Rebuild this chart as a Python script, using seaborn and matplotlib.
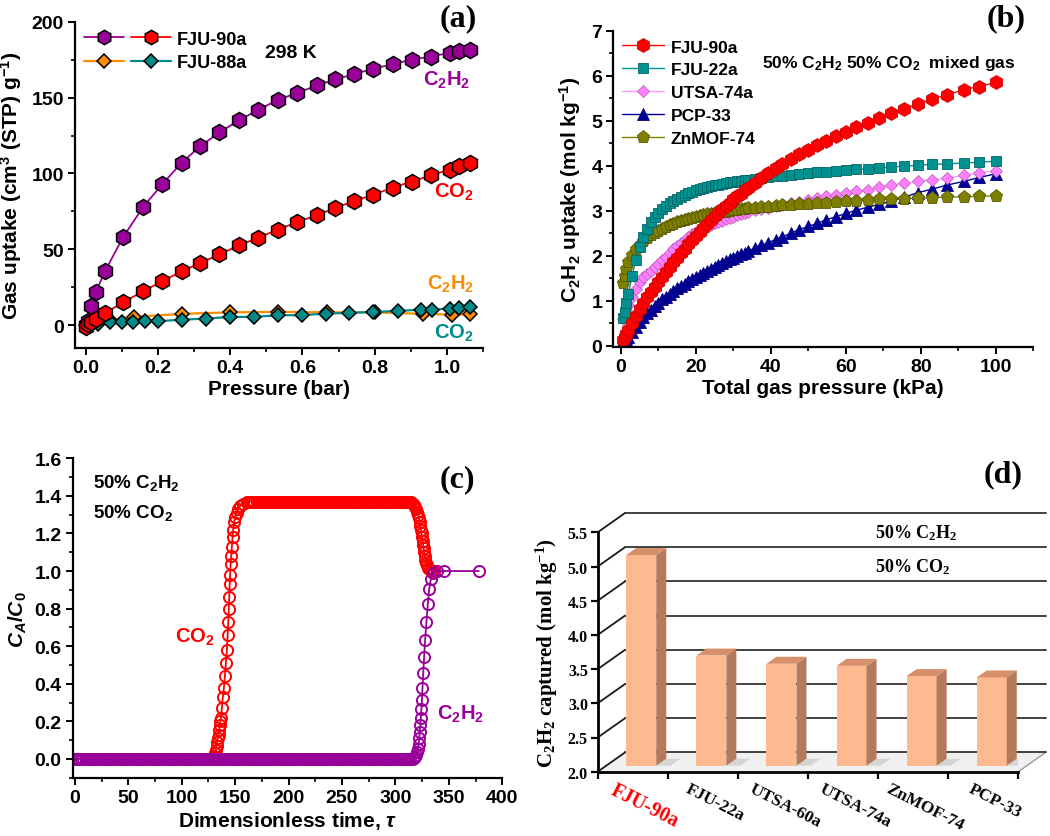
import numpy as np
import matplotlib
matplotlib.use('Agg')
import matplotlib.pyplot as plt
import seaborn as sns
from matplotlib.ticker import AutoMinorLocator, MultipleLocator, FormatStrFormatter
from matplotlib.legend_handler import HandlerTuple
from matplotlib.patches import Polygon

# ---------------- data ----------------
# (a) single-component isotherms at 298 K
p_a = [0.0, 0.005, 0.013, 0.028, 0.053, 0.103, 0.159, 0.212, 0.265, 0.317, 0.370, 0.424,
       0.478, 0.532, 0.585, 0.640, 0.691, 0.744, 0.796, 0.850, 0.902, 0.956, 1.008, 1.034, 1.065]
fju90_c2h2 = [0.3, 3, 13, 22, 35.5, 58, 78, 93, 107, 118, 127, 135, 142, 148.5, 153, 158,
              162, 165.5, 169, 172, 175, 177, 179.5, 180.5, 181.5]
fju90_co2 = [-1, 0.5, 2, 4, 8, 15, 22.5, 29, 35.5, 41, 46.7, 52.6, 57.7, 63, 68, 72.4,
             77.4, 81.8, 86, 90.6, 94.7, 98.7, 102.6, 104.6, 107]
p_88_c2h2 = [0.0, 0.01, 0.03, 0.067, 0.133, 0.267, 0.4, 0.533, 0.667, 0.8, 0.933, 1.013, 1.065]
fju88_c2h2 = [0, 0.8, 2, 3.5, 5.5, 7.5, 8.5, 8.8, 8.5, 8.5, 7.5, 7.0, 7.2]
p_88_co2 = [0.004, 0.034, 0.066, 0.099, 0.131, 0.165, 0.2, 0.265, 0.334, 0.4, 0.467, 0.532,
            0.598, 0.665, 0.728, 0.796, 0.864, 0.928, 0.96, 1.008, 1.034, 1.065]
fju88_co2 = [-1.1, 1.1, 2.2, 2.2, 2.2, 2.6, 2.6, 3.7, 4.4, 5.5, 5.5, 6.6, 6.6, 7.7, 8.1,
             8.8, 9.4, 10.3, 10.3, 11, 11.4, 12]

# (b) IAST C2H2 uptake from 50/50 C2H2/CO2
p_b = [0.5, 1, 1.5, 2, 3, 4, 5, 6, 7, 8, 9, 10, 11, 12, 13, 14, 15, 16, 17, 18, 19, 20,
       21, 22, 23, 24, 25, 26, 27, 28, 29, 30, 31, 32, 33, 34, 35.8, 37.5, 39.3, 41.3, 43.1,
       45.3, 47.5, 50, 52.4, 54.8, 57.5, 60, 62.8, 65.9, 68.9, 72.1, 75.5, 79.2, 83, 87,
       91.4, 95.6, 100]
iast_fju90 = [0.12, 0.2, 0.27, 0.34, 0.5, 0.66, 0.82, 0.95, 1.08, 1.2, 1.31, 1.42, 1.53,
              1.64, 1.75, 1.86, 1.96, 2.06, 2.16, 2.26, 2.35, 2.44, 2.53, 2.62, 2.71, 2.8,
              2.88, 2.96, 3.03, 3.1, 3.18, 3.25, 3.32, 3.38, 3.45, 3.51, 3.62, 3.73, 3.84,
              3.94, 4.04, 4.15, 4.26, 4.36, 4.47, 4.56, 4.67, 4.76, 4.87, 4.96, 5.06, 5.17,
              5.26, 5.37, 5.48, 5.57, 5.69, 5.76, 5.85]
iast_fju22 = [0.62, 0.75, 0.95, 1.15, 1.55, 1.9, 2.2, 2.42, 2.6, 2.74, 2.86, 2.96, 3.04,
              3.11, 3.17, 3.22, 3.27, 3.31, 3.35, 3.39, 3.42, 3.45, 3.48, 3.5, 3.53, 3.55,
              3.57, 3.58, 3.6, 3.61, 3.63, 3.64, 3.65, 3.67, 3.68, 3.69, 3.71, 3.73, 3.75,
              3.77, 3.78, 3.8, 3.81, 3.83, 3.85, 3.86, 3.88, 3.9, 3.92, 3.93, 3.95, 3.97,
              3.99, 4.01, 4.03, 4.04, 4.06, 4.08, 4.1]
iast_utsa74 = [0.59, 0.7, 0.8, 0.9, 1.08, 1.27, 1.42, 1.52, 1.6, 1.67, 1.74, 1.81, 1.9,
               1.98, 2.06, 2.14, 2.21, 2.28, 2.35, 2.42, 2.48, 2.52, 2.56, 2.6, 2.65, 2.69,
               2.72, 2.75, 2.78, 2.81, 2.84, 2.87, 2.9, 2.92, 2.95, 2.97, 3.01, 3.04, 3.07,
               3.1, 3.13, 3.17, 3.2, 3.24, 3.28, 3.32, 3.36, 3.39, 3.43, 3.47, 3.52, 3.57,
               3.61, 3.65, 3.69, 3.72, 3.79, 3.84, 3.89]
iast_pcp33 = [0.1, 0.12, 0.15, 0.2, 0.3, 0.42, 0.53, 0.63, 0.72, 0.8, 0.88, 0.96, 1.03,
              1.09, 1.16, 1.22, 1.28, 1.33, 1.38, 1.43, 1.48, 1.53, 1.58, 1.62, 1.67, 1.71,
              1.76, 1.8, 1.84, 1.88, 1.92, 1.96, 2.0, 2.04, 2.07, 2.11, 2.17, 2.23, 2.29,
              2.36, 2.42, 2.5, 2.58, 2.65, 2.72, 2.8, 2.87, 2.94, 3.01, 3.08, 3.14, 3.21,
              3.3, 3.4, 3.48, 3.57, 3.65, 3.74, 3.82]
iast_znmof74 = [1.4, 1.55, 1.7, 1.85, 2.02, 2.14, 2.24, 2.32, 2.39, 2.45, 2.51, 2.56, 2.6,
                2.64, 2.68, 2.71, 2.74, 2.77, 2.8, 2.82, 2.84, 2.86, 2.88, 2.9, 2.92, 2.93,
                2.95, 2.96, 2.97, 2.98, 3.0, 3.01, 3.02, 3.03, 3.04, 3.05, 3.06, 3.08, 3.09,
                3.1, 3.12, 3.13, 3.14, 3.16, 3.17, 3.18, 3.2, 3.21, 3.22, 3.23, 3.25, 3.26,
                3.27, 3.28, 3.29, 3.3, 3.31, 3.32, 3.33]

# (c) transient breakthrough, FJU-90a
co2_rise_tau = [126, 129, 130.4, 131.2, 132, 132.6, 133.2, 133.9, 134.5, 135.1, 135.7, 136.2,
                136.7, 137.6, 138.5, 139.5, 140.4, 141.3, 142.3, 143.0, 143.6, 144.1, 144.5,
                144.9, 145.3, 145.8, 146.3, 147, 147.6, 148.2, 149.1, 150, 151.3, 152.9,
                154.4, 157, 160.7]
co2_rise_ca = [0.0, 0.005, 0.018, 0.03, 0.05, 0.07, 0.09, 0.11, 0.13, 0.155, 0.18, 0.2,
               0.22, 0.27, 0.33, 0.38, 0.44, 0.51, 0.58, 0.66, 0.73, 0.8, 0.86, 0.93, 0.98,
               1.04, 1.08, 1.13, 1.18, 1.22, 1.26, 1.29, 1.31, 1.33, 1.345, 1.357, 1.366]
co2_top_tau = [162, 164, 166, 168, 170, 172, 174, 176, 178, 180, 182, 184, 186, 188, 190,
               192, 194, 196, 198, 200, 202, 204, 206, 208, 210, 212, 214, 216, 218, 220,
               222, 224, 226, 228, 230, 232, 234, 236, 238, 240, 242, 244, 246, 248, 250,
               252, 254, 256, 258, 260, 262, 264, 266, 268, 270, 272, 274, 276, 278, 280,
               282, 284, 286, 288, 290, 292, 294, 296, 298, 300, 302, 304, 306, 308, 310, 312]
co2_top_level = 1.37
co2_fall_tau = [313.5, 315, 316.3, 317.5, 318.6, 319.6, 320.5, 321.3, 322, 322.7, 323.3,
                323.9, 324.4, 324.9, 325.4, 325.9, 326.4, 326.9, 327.4, 328, 328.7, 329.5,
                330.5, 331.7, 333, 334.5, 336]
co2_fall_ca = [1.369, 1.365, 1.358, 1.35, 1.34, 1.328, 1.314, 1.298, 1.28, 1.26, 1.24, 1.22,
               1.2, 1.18, 1.16, 1.14, 1.12, 1.1, 1.08, 1.06, 1.045, 1.03, 1.018, 1.01, 1.004,
               1.0, 1.0]
c2h2_base_tau = [0, 2, 4, 6, 8, 10, 12, 14, 16, 18, 20, 22, 24, 26, 28, 30, 32, 34, 36, 38,
                 40, 42, 44, 46, 48, 50, 52, 54, 56, 58, 60, 62, 64, 66, 68, 70, 72, 74, 76, 78,
                 80, 82, 84, 86, 88, 90, 92, 94, 96, 98, 100, 102, 104, 106, 108, 110, 112, 114,
                 116, 118, 120, 122, 124, 126, 128, 130, 132, 134, 136, 138, 140, 142, 144, 146,
                 148, 150, 152, 154, 156, 158, 160, 162, 164, 166, 168, 170, 172, 174, 176, 178,
                 180, 182, 184, 186, 188, 190, 192, 194, 196, 198, 200, 202, 204, 206, 208, 210,
                 212, 214, 216, 218, 220, 222, 224, 226, 228, 230, 232, 234, 236, 238, 240, 242,
                 244, 246, 248, 250, 252, 254, 256, 258, 260, 262, 264, 266, 268, 270, 272, 274,
                 276, 278, 280, 282, 284, 286, 288, 290, 292, 294, 296, 298, 300, 302, 304, 306,
                 308, 310, 312, 314, 316]
c2h2_base_level = 0.0
c2h2_rise_tau = [317.5, 318.6, 319.6, 320.4, 321.1, 321.7, 322.3, 322.8, 323.3, 323.8, 324.3,
                 324.8, 325.3, 326, 326.8, 327.8, 329, 330.3, 331.6, 333.2, 335.5, 338.5,
                 345.5, 378]
c2h2_rise_ca = [0.004, 0.01, 0.02, 0.035, 0.055, 0.08, 0.11, 0.145, 0.18, 0.22, 0.265, 0.315,
                0.38, 0.46, 0.54, 0.635, 0.73, 0.825, 0.905, 0.96, 0.99, 1.0, 1.0, 1.0]

# (d) C2H2 captured in breakthrough
mof_names = ['FJU-90a', 'FJU-22a', 'UTSA-60a', 'UTSA-74a', 'ZnMOF-74', 'PCP-33']
captured = [5.08, 3.61, 3.49, 3.46, 3.31, 3.29]

# ---------------- style ----------------
sns.set_style('ticks')
plt.rcParams['font.family'] = ['Liberation Sans', 'DejaVu Sans']
plt.rcParams['font.weight'] = 'bold'
plt.rcParams['axes.labelweight'] = 'bold'
plt.rcParams['mathtext.default'] = 'regular'
plt.rcParams['mathtext.fontset'] = 'custom'
plt.rcParams['mathtext.rm'] = 'Liberation Sans:bold'
plt.rcParams['mathtext.it'] = 'Liberation Sans:italic:bold'
for k in ['axes.edgecolor', 'xtick.color', 'ytick.color', 'text.color', 'axes.labelcolor']:
    plt.rcParams[k] = 'black'

PURPLE = '#990099'
RED = '#ff0000'
ORANGE = '#ff8c00'
TEAL = '#008b8b'
SERIF = ['Liberation Serif', 'DejaVu Serif']

fig = plt.figure(figsize=(10.5, 8.37), dpi=100)
W, H = 1050, 837


def place(l, t, r, b):
    return fig.add_axes([l / W, 1 - b / H, (r - l) / W, (b - t) / H])


def style_axes(ax, fs=14):
    for s in ['top', 'right']:
        ax.spines[s].set_visible(False)
    for s in ['left', 'bottom']:
        ax.spines[s].set_linewidth(1.6)
    ax.tick_params(which='major', direction='out', length=5, width=1.4, labelsize=fs, pad=3)
    ax.tick_params(which='minor', direction='out', length=3, width=1.2)
    ax.xaxis.set_minor_locator(AutoMinorLocator(2))
    ax.yaxis.set_minor_locator(AutoMinorLocator(2))


# ---------------- (a) ----------------
ax_a = place(75, 22.7, 483, 349)
diam = dict(marker='D', markersize=7.6, markeredgecolor='k', markeredgewidth=1.1,
            linewidth=1.6, estimator=None)
hexa = dict(marker='h', markersize=11.5, markeredgecolor='k', markeredgewidth=1.1,
            linewidth=1.3, estimator=None)
sns.lineplot(x=p_88_c2h2, y=fju88_c2h2, ax=ax_a, color=ORANGE, **diam)
h88_c2 = ax_a.lines[-1]
sns.lineplot(x=p_88_co2, y=fju88_co2, ax=ax_a, color=TEAL, **diam)
h88_co = ax_a.lines[-1]
sns.lineplot(x=p_a, y=fju90_c2h2, ax=ax_a, color=PURPLE, **hexa)
h90_c2 = ax_a.lines[-1]
sns.lineplot(x=p_a, y=fju90_co2, ax=ax_a, color=RED, **hexa)
h90_co = ax_a.lines[-1]
ax_a.set_xlim(-0.03, 1.1)
ax_a.set_ylim(-15, 200)
ax_a.xaxis.set_major_locator(MultipleLocator(0.2))
ax_a.xaxis.set_major_formatter(FormatStrFormatter('%.1f'))
ax_a.yaxis.set_major_locator(MultipleLocator(50))
style_axes(ax_a)
ax_a.set_xlabel('Pressure (bar)', fontsize=15, labelpad=2)
ax_a.set_ylabel('Gas uptake (cm$^3$ (STP) g$^{-1}$)', fontsize=15, labelpad=5)
ax_a.legend([(h90_c2, h90_co), (h88_c2, h88_co)], ['FJU-90a', 'FJU-88a'],
            handler_map={tuple: HandlerTuple(ndivide=None, pad=0.35)},
            loc='upper left', frameon=False, fontsize=13, handlelength=4.8,
            handletextpad=0.35, borderpad=0, borderaxespad=0.5, labelspacing=0.35,
            markerscale=0.9)
ax_a.text(0.569, 180, '298 K', fontsize=14, ha='center', va='center')
ax_a.text(1.065, 162, 'C$_2$H$_2$', color=PURPLE, fontsize=14.5, ha='right', va='center')
ax_a.text(1.075, 88, 'CO$_2$', color=RED, fontsize=14.5, ha='right', va='center')
ax_a.text(1.075, 27.4, 'C$_2$H$_2$', color=ORANGE, fontsize=14.5, ha='right', va='center')
ax_a.text(1.075, -4.4, 'CO$_2$', color=TEAL, fontsize=14.5, ha='right', va='center')

# ---------------- (b) ----------------
ax_b = place(613.3, 31.7, 1033.3, 348.3)
sns.lineplot(x=p_b, y=iast_pcp33, ax=ax_b, color='#000099', marker='^', markersize=8.6,
             markeredgecolor='#000080', markeredgewidth=0.6, linewidth=1, estimator=None)
l_pcp = ax_b.lines[-1]
sns.lineplot(x=p_b, y=iast_utsa74, ax=ax_b, color='#ff99ff', marker='D', markersize=6.2,
             markerfacecolor='#ff80ff', markeredgecolor='#c060c0', markeredgewidth=0.6,
             linewidth=1, estimator=None)
l_utsa = ax_b.lines[-1]
sns.lineplot(x=p_b, y=iast_znmof74, ax=ax_b, color='#808000', marker='p', markersize=9.4,
             markeredgecolor='#555500', markeredgewidth=0.6, linewidth=1, estimator=None)
l_zn = ax_b.lines[-1]
sns.lineplot(x=p_b, y=iast_fju22, ax=ax_b, color='#009090', marker='s', markersize=7.2,
             markeredgecolor='#006666', markeredgewidth=0.6, linewidth=1, estimator=None)
l_22 = ax_b.lines[-1]
sns.lineplot(x=p_b, y=iast_fju90, ax=ax_b, color=RED, marker='h', markersize=10,
             markeredgecolor='#cc0000', markeredgewidth=0.6, linewidth=1, estimator=None)
l_90 = ax_b.lines[-1]
ax_b.set_xlim(-2, 110)
ax_b.set_ylim(-0.035, 7)
ax_b.xaxis.set_major_locator(MultipleLocator(20))
ax_b.yaxis.set_major_locator(MultipleLocator(1))
style_axes(ax_b)
ax_b.set_xlabel('Total gas pressure (kPa)', fontsize=15, labelpad=2)
ax_b.set_ylabel('C$_2$H$_2$ uptake (mol kg$^{-1}$)', fontsize=15, labelpad=6)
ax_b.legend([l_90, l_22, l_utsa, l_pcp, l_zn],
            ['FJU-90a', 'FJU-22a', 'UTSA-74a', 'PCP-33', 'ZnMOF-74'],
            loc='upper left', frameon=False, fontsize=12.5, handlelength=2.4,
            handletextpad=0.4, borderpad=0, borderaxespad=0.5, labelspacing=0.45)
ax_b.text(71.4, 6.3, '50% C$_2$H$_2$ 50% CO$_2$  mixed gas', fontsize=12.5,
          ha='center', va='center')

# ---------------- (c) ----------------
ax_c = place(72.7, 459.3, 502.3, 779.3)
co2_tau = co2_rise_tau + co2_top_tau + co2_fall_tau
co2_ca = co2_rise_ca + [co2_top_level] * len(co2_top_tau) + co2_fall_ca
c2h2_tau = c2h2_base_tau + c2h2_rise_tau
c2h2_ca = [c2h2_base_level] * len(c2h2_base_tau) + c2h2_rise_ca
circ = dict(marker='o', markersize=8, markerfacecolor='none', markeredgewidth=1.4,
            linewidth=1.3, estimator=None)
sns.lineplot(x=co2_tau, y=co2_ca, ax=ax_c, color=RED, markeredgecolor=RED, **circ)
sns.lineplot(x=c2h2_tau, y=c2h2_ca, ax=ax_c, color=PURPLE, markeredgecolor=PURPLE, **circ)
ax_c.set_xlim(-2, 400)
ax_c.set_ylim(-0.103, 1.6)
ax_c.xaxis.set_major_locator(MultipleLocator(50))
ax_c.yaxis.set_major_locator(MultipleLocator(0.2))
ax_c.yaxis.set_major_formatter(FormatStrFormatter('%.1f'))
style_axes(ax_c)
ax_c.set_xlabel(r'Dimensionless time, $\mathit{\tau}$', fontsize=15, labelpad=2)
ax_c.set_ylabel(r'$\mathit{C_A/C_0}$', fontsize=15, labelpad=4)
ax_c.text(16.8, 1.473, '50% C$_2$H$_2$', fontsize=13.5, ha='left', va='center')
ax_c.text(16.8, 1.312, '50% CO$_2$', fontsize=13.5, ha='left', va='center')
ax_c.text(93.6, 0.654, 'CO$_2$', color=RED, fontsize=14.5, ha='left', va='center')
ax_c.text(338.6, 0.24, 'C$_2$H$_2$', color=PURPLE, fontsize=14.5, ha='left', va='center')

# ---------------- (d) ----------------
ax_d = place(597.7, 533.3, 1018.3, 772.7)
BAR_FRONT, BAR_SIDE, BAR_TOP = '#fdb98f', '#b57a5c', '#d88f6b'
BAR_DX, BAR_DY = 0.121, 0.088      # depth offset of the bar row
SIDE_DX, SIDE_DY = 0.143, 0.102    # bar thickness in depth
WALL_DX, WALL_DY = 0.39, 0.282     # depth of the back wall
base = 2.0

sns.barplot(x=mof_names, y=captured, ax=ax_d, color=BAR_FRONT, saturation=1, width=0.428,
            zorder=3, linewidth=0)
cat_pos = list(ax_d.get_xticks())
ax_d.set_xlim(cat_pos[0] - 0.5, cat_pos[-1] + 0.5)
ax_d.set_ylim(base, 5.5)
ax_d.yaxis.set_major_locator(MultipleLocator(0.5))
ax_d.yaxis.set_major_formatter(FormatStrFormatter('%.1f'))

for bar in list(ax_d.patches):
    x0 = bar.get_x() + BAR_DX
    y0 = base + BAR_DY
    y1 = bar.get_height() + BAR_DY
    bar.set_x(x0)
    bar.set_y(y0)
    bar.set_height(y1 - y0)
    x1 = x0 + bar.get_width()
    ax_d.add_patch(Polygon([(x1, y0), (x1 + SIDE_DX, y0 + SIDE_DY), (x1 + SIDE_DX, y1 + SIDE_DY),
                            (x1, y1)], closed=True, fc=BAR_SIDE, ec='none', zorder=3))
    ax_d.add_patch(Polygon([(x0, y1), (x1, y1), (x1 + SIDE_DX, y1 + SIDE_DY),
                            (x0 + SIDE_DX, y1 + SIDE_DY)], closed=True, fc=BAR_TOP, ec='none',
                           zorder=3))
    ax_d.add_patch(Polygon([(x1, y0), (x1 + 0.2, y0), (x1 + 0.2 + SIDE_DX, y0 + SIDE_DY),
                            (x1 + SIDE_DX, y0 + SIDE_DY)], closed=True, fc='#c9c9c9', ec='none',
                           alpha=0.7, zorder=2))

xl, xr = ax_d.get_xlim()
ax_d.add_patch(Polygon([(xl, base), (xr, base), (xr + WALL_DX, base + WALL_DY),
                        (xl + WALL_DX, base + WALL_DY)], closed=True, fc='#f0f0f0', ec='none',
                       zorder=0.5, clip_on=False))
ax_d.plot([xr, xr + WALL_DX], [base, base + WALL_DY], color='#999999', lw=1, clip_on=False,
          zorder=1)
levels = [v for v in ax_d.get_yticks() if base - 1e-6 <= v <= 5.5 + 1e-6]
for v in levels:
    ax_d.plot([xl, xl + WALL_DX], [v, v + WALL_DY], color='#1a1a1a', lw=1.3, clip_on=False,
              zorder=1)
    ax_d.plot([xl + WALL_DX, xr + WALL_DX], [v + WALL_DY, v + WALL_DY], color='#333333',
              lw=1.3, clip_on=False, zorder=1)

for s in ['top', 'right']:
    ax_d.spines[s].set_visible(False)
for s in ['left', 'bottom']:
    ax_d.spines[s].set_linewidth(2)
    ax_d.spines[s].set_zorder(4)
ax_d.set_xticks([p - 0.5 for p in cat_pos] + [cat_pos[-1] + 0.5])
ax_d.set_xticklabels([])
ax_d.set_xticks([p + 0.17 for p in cat_pos], labels=mof_names, minor=True)
ax_d.tick_params(axis='x', which='minor', length=0, pad=6)
ax_d.tick_params(which='major', direction='out', length=5, width=1.6)
ax_d.tick_params(axis='y', labelsize=11.5, labelfontfamily=SERIF[0], pad=2)
for i, lbl in enumerate(ax_d.get_xticklabels(minor=True)):
    lbl.set_rotation(-27)
    lbl.set_ha('center')
    lbl.set_va('top')
    lbl.set_fontfamily(SERIF)
    lbl.set_fontsize(14.5 if i == 0 else 12.5)
    if i == 0:
        lbl.set_color(RED)
ax_d.set_xlabel('')
ax_d.set_ylabel('C$_2$H$_2$ captured (mol kg$^{-1}$)', fontsize=15, fontfamily=SERIF,
                labelpad=6)
ax_d.text(3.456, 5.504, '50% C$_2$H$_2$', fontsize=13, fontfamily=SERIF, ha='left',
          va='center', zorder=2)
ax_d.text(3.456, 5.007, '50% CO$_2$', fontsize=13, fontfamily=SERIF, ha='left',
          va='center', zorder=2)

# ---------------- panel letters ----------------
for lab, x, y in [('(a)', 458, 19), ('(b)', 1006, 19), ('(c)', 457, 480), ('(d)', 1003, 475)]:
    fig.text(x / W, 1 - y / H, lab, fontsize=23, fontfamily=SERIF, ha='center', va='center')

fig.savefig('out.png', dpi=100)
